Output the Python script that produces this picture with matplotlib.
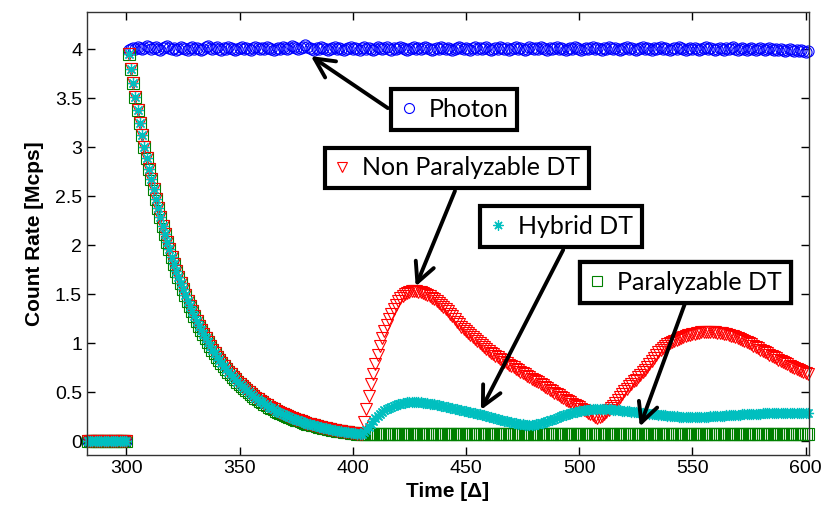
import numpy as np
import matplotlib
matplotlib.use("Agg")
from matplotlib import pyplot as plt
from matplotlib.ticker import FormatStrFormatter

# time axis, one sample per dead-time unit
time = np.arange(283, 602)

# all counters read zero before the photon burst
lead_zero = [0.0] * 18   # 283..300

# incoming photon rate (301..601)
photon_on = [
    3.99, 4.00, 4.01, 4.00, 4.02, 4.01, 4.00, 4.01, 4.03, 4.02, 4.00, 4.01, 4.02, 4.00, 3.99, 4.01, 4.02, 4.03, 4.01, 4.00,
    4.01, 3.99, 4.00, 4.02, 4.01, 4.00, 3.99, 4.01, 4.02, 4.00, 4.01, 4.00, 3.99, 4.00, 4.02, 4.03, 4.01, 4.00, 4.01, 4.02,
    4.00, 3.99, 4.01, 4.00, 4.02, 4.01, 4.00, 3.99, 4.00, 4.01, 4.02, 4.00, 4.01, 4.00, 3.99, 4.01, 4.02, 4.01, 4.00, 4.01,
    4.00, 4.02, 4.01, 4.00, 3.99, 4.00, 4.01, 4.00, 4.02, 4.01, 4.00, 4.01, 4.03, 4.02, 4.01, 4.00, 4.01, 4.02, 4.04, 4.02,
    4.01, 4.00, 3.99, 4.01, 4.00, 4.02, 4.01, 4.00, 3.99, 4.00, 4.01, 4.02, 4.00, 4.01, 4.00, 3.99, 4.00, 4.01, 4.02, 4.00,
    4.01, 4.00, 3.99, 4.01, 4.02, 4.00, 4.01, 4.00, 3.99, 4.00, 4.02, 4.01, 4.00, 4.01, 4.02, 4.00, 3.99, 4.01, 4.00, 4.01,
    4.02, 4.01, 4.00, 3.99, 4.00, 4.01, 4.02, 4.00, 4.01, 4.00, 4.01, 4.02, 4.01, 4.00, 3.99, 4.00, 4.01, 4.00, 4.02, 4.01,
    4.00, 4.01, 4.00, 3.99, 4.00, 4.01, 4.02, 4.01, 4.00, 4.01, 4.00, 3.99, 4.01, 4.02, 4.00, 4.01, 4.00, 4.01, 4.02, 4.00,
    3.99, 4.00, 4.01, 4.00, 4.02, 4.01, 4.00, 4.01, 3.99, 4.00, 4.01, 4.02, 4.00, 4.01, 4.00, 3.99, 4.00, 4.02, 4.01, 4.00,
    4.01, 4.00, 4.02, 4.01, 4.00, 3.99, 4.01, 4.00, 4.01, 4.02, 4.00, 4.01, 4.00, 3.99, 4.00, 4.01, 4.00, 4.02, 4.01, 4.00,
    3.99, 4.00, 4.01, 4.00, 4.01, 4.02, 4.00, 4.01, 4.00, 3.99, 4.01, 4.00, 4.02, 4.01, 4.00, 4.01, 4.00, 3.99, 4.00, 4.01,
    4.02, 4.00, 4.01, 4.00, 3.99, 4.00, 4.01, 4.02, 4.00, 4.01, 4.00, 3.99, 4.01, 4.00, 4.01, 4.02, 4.00, 4.01, 4.00, 3.99,
    4.00, 4.01, 4.00, 4.02, 4.01, 4.00, 3.99, 4.00, 4.01, 4.00, 4.01, 4.00, 3.99, 4.00, 4.01, 4.02, 4.00, 4.01, 4.00, 3.99,
    4.00, 4.01, 4.00, 3.99, 4.01, 4.00, 4.01, 4.02, 4.00, 3.99, 4.00, 4.01, 4.00, 3.99, 4.00, 4.01, 4.00, 3.99, 4.00, 4.01,
    4.00, 3.99, 4.00, 4.01, 4.00, 3.99, 4.00, 3.99, 4.00, 3.99, 3.98, 3.99, 4.00, 3.99, 3.98, 3.99, 3.98, 3.99, 3.98, 3.97,
    3.98,
]

# shared decay of all three detector models (301..404)
decay = [
    3.950, 3.799, 3.654, 3.514, 3.379, 3.250, 3.126, 3.006, 2.891, 2.781,
    2.674, 2.572, 2.474, 2.379, 2.288, 2.201, 2.116, 2.035, 1.958, 1.883,
    1.811, 1.741, 1.675, 1.611, 1.549, 1.490, 1.433, 1.378, 1.325, 1.275,
    1.226, 1.179, 1.134, 1.091, 1.049, 1.009, 0.970, 0.933, 0.897, 0.863,
    0.830, 0.798, 0.768, 0.738, 0.710, 0.683, 0.657, 0.632, 0.608, 0.584,
    0.562, 0.540, 0.520, 0.500, 0.481, 0.462, 0.445, 0.428, 0.411, 0.396,
    0.381, 0.366, 0.352, 0.338, 0.326, 0.313, 0.301, 0.290, 0.279, 0.268,
    0.258, 0.248, 0.238, 0.229, 0.220, 0.212, 0.204, 0.196, 0.189, 0.181,
    0.174, 0.168, 0.161, 0.155, 0.149, 0.144, 0.138, 0.133, 0.128, 0.123,
    0.118, 0.114, 0.109, 0.105, 0.101, 0.097, 0.093, 0.090, 0.086, 0.083,
    0.080, 0.077, 0.074, 0.071,
]

# tails after the decay (405..601)
nonpara_tail = [
    0.20, 0.33, 0.46, 0.58, 0.69, 0.79, 0.88, 0.97, 1.05, 1.12, 1.19, 1.25, 1.30, 1.35, 1.39, 1.43, 1.46, 1.48, 1.50, 1.51,
    1.52, 1.53, 1.53, 1.53,
    1.52, 1.52, 1.51, 1.50, 1.49, 1.48, 1.46, 1.45, 1.43, 1.41, 1.39, 1.37, 1.35, 1.33, 1.30, 1.28, 1.25, 1.22, 1.20, 1.17,
    1.15, 1.12, 1.10, 1.08, 1.06, 1.04, 1.02, 1.00, 0.98, 0.96, 0.94, 0.92, 0.90, 0.89, 0.87, 0.86, 0.84, 0.83, 0.81, 0.80,
    0.78, 0.77, 0.76, 0.74, 0.73, 0.71, 0.70, 0.69, 0.67, 0.66, 0.64, 0.63, 0.61, 0.60, 0.58, 0.57, 0.55, 0.54, 0.52, 0.51,
    0.49, 0.48, 0.47, 0.45, 0.44, 0.42, 0.41, 0.40, 0.38, 0.37, 0.36, 0.35, 0.33, 0.32, 0.31, 0.29, 0.28, 0.27, 0.25, 0.24,
    0.25, 0.26, 0.28, 0.30, 0.32, 0.34, 0.36, 0.39, 0.42, 0.45, 0.48, 0.51, 0.53, 0.56, 0.58, 0.61, 0.63, 0.66, 0.68, 0.71,
    0.73, 0.76, 0.79, 0.82, 0.85, 0.88, 0.91, 0.93, 0.95, 0.97, 0.99, 1.00, 1.01, 1.02, 1.03, 1.04, 1.05, 1.06, 1.07, 1.08,
    1.08, 1.09, 1.09, 1.10, 1.10, 1.11, 1.11, 1.11, 1.11, 1.11, 1.11, 1.11, 1.10, 1.10, 1.10, 1.09, 1.09, 1.08, 1.07, 1.07,
    1.06, 1.05, 1.04, 1.03, 1.02, 1.01, 1.00, 0.99, 0.97, 0.96, 0.95, 0.93, 0.92, 0.91, 0.90, 0.88, 0.87, 0.86, 0.85, 0.83,
    0.82, 0.81, 0.80, 0.79, 0.77, 0.76, 0.75, 0.74, 0.73, 0.72, 0.71, 0.70, 0.69,
]

hybrid_tail = [
    0.09, 0.12, 0.15, 0.18, 0.21, 0.24, 0.26, 0.28, 0.30, 0.32, 0.33, 0.34, 0.35, 0.36, 0.37, 0.38, 0.38, 0.39, 0.39, 0.40,
    0.40, 0.40, 0.40, 0.40, 0.40, 0.40, 0.39, 0.39, 0.39, 0.38, 0.38, 0.38, 0.37, 0.37, 0.36, 0.36, 0.35, 0.35, 0.34, 0.34,
    0.33, 0.33, 0.32, 0.32, 0.31, 0.31, 0.30, 0.30, 0.29, 0.29, 0.28, 0.28, 0.27, 0.27, 0.26, 0.25, 0.25, 0.24, 0.24, 0.23,
    0.22, 0.22, 0.21, 0.21, 0.20, 0.20, 0.19, 0.19, 0.18, 0.18, 0.18, 0.17, 0.17, 0.17, 0.17, 0.17, 0.18, 0.18, 0.19, 0.19,
    0.20, 0.21, 0.22, 0.22, 0.23, 0.24, 0.25, 0.26, 0.27, 0.27, 0.28, 0.29, 0.29, 0.30, 0.30, 0.31, 0.31, 0.32, 0.32, 0.32,
    0.33, 0.33, 0.33, 0.33, 0.33, 0.33, 0.33, 0.33, 0.33, 0.33, 0.32, 0.32, 0.32, 0.32, 0.31, 0.31, 0.31, 0.31, 0.30, 0.30,
    0.30, 0.30, 0.29, 0.29, 0.29, 0.29, 0.28, 0.28, 0.28, 0.28, 0.27, 0.27, 0.27, 0.27, 0.26, 0.26, 0.26, 0.26, 0.26, 0.25,
    0.25, 0.25, 0.25, 0.25, 0.25, 0.25, 0.25, 0.25, 0.25, 0.25, 0.25, 0.25, 0.25, 0.26, 0.26, 0.26, 0.26, 0.26, 0.26, 0.26,
    0.27, 0.27, 0.27, 0.27, 0.27, 0.27, 0.27, 0.28, 0.28, 0.28, 0.28, 0.28, 0.28, 0.28, 0.28, 0.28, 0.29, 0.29, 0.29, 0.29,
    0.29, 0.29, 0.29, 0.29, 0.29, 0.29, 0.29, 0.29, 0.29, 0.29, 0.29, 0.29, 0.29, 0.29, 0.29, 0.29, 0.29,
]

para_tail = [
    0.07, 0.07, 0.07, 0.07, 0.07, 0.07, 0.07, 0.07, 0.07, 0.07, 0.07, 0.07, 0.07, 0.07, 0.07, 0.07, 0.07, 0.07, 0.07, 0.07,
    0.07, 0.07, 0.07, 0.07, 0.07, 0.07, 0.07, 0.07, 0.07, 0.07, 0.07, 0.07, 0.07, 0.07, 0.07, 0.07, 0.07, 0.07, 0.07, 0.07,
    0.07, 0.07, 0.07, 0.07, 0.07, 0.07, 0.07, 0.07, 0.07, 0.07, 0.07, 0.07, 0.07, 0.07, 0.07, 0.07, 0.07, 0.07, 0.07, 0.07,
    0.07, 0.07, 0.07, 0.07, 0.07, 0.07, 0.07, 0.07, 0.07, 0.07, 0.07, 0.07, 0.07, 0.07, 0.07, 0.07, 0.07, 0.07, 0.07, 0.07,
    0.07, 0.07, 0.07, 0.07, 0.07, 0.07, 0.07, 0.07, 0.07, 0.07, 0.07, 0.07, 0.07, 0.07, 0.07, 0.07, 0.07, 0.07, 0.07, 0.07,
    0.07, 0.07, 0.07, 0.07, 0.07, 0.07, 0.07, 0.07, 0.07, 0.07, 0.07, 0.07, 0.07, 0.07, 0.07, 0.07, 0.07, 0.07, 0.07, 0.07,
    0.07, 0.07, 0.07, 0.07, 0.07, 0.07, 0.07, 0.07, 0.07, 0.07, 0.07, 0.07, 0.07, 0.07, 0.07, 0.07, 0.07, 0.07, 0.07, 0.07,
    0.07, 0.07, 0.07, 0.07, 0.07, 0.07, 0.07, 0.07, 0.07, 0.07, 0.07, 0.07, 0.07, 0.07, 0.07, 0.07, 0.07, 0.07, 0.07, 0.07,
    0.07, 0.07, 0.07, 0.07, 0.07, 0.07, 0.07, 0.07, 0.07, 0.07, 0.07, 0.07, 0.07, 0.07, 0.07, 0.07, 0.07, 0.07, 0.07, 0.07,
    0.07, 0.07, 0.07, 0.07, 0.07, 0.07, 0.07, 0.07, 0.07, 0.07, 0.07, 0.07, 0.07, 0.07, 0.07, 0.07, 0.07,
]

photon = np.array(lead_zero + photon_on)
nonpara = np.array(lead_zero + decay + nonpara_tail)
hybrid = np.array(lead_zero + decay + hybrid_tail)
para = np.array(lead_zero + decay + para_tail)

# %%
fig = plt.figure(figsize=(8.3, 5.14), dpi=100)
ax = fig.add_axes([0.1048, 0.1148, 0.8693, 0.8619])

MS = 8
ASTERISK = (8, 2, 0)
h_ph, = ax.plot(time, photon, "o", color="b", mfc="none", ms=MS, mew=0.8, clip_on=False)
h_pa, = ax.plot(time, para, "s", color=(0, 0.5, 0), mfc="none", ms=MS, mew=0.8, clip_on=False)
h_np, = ax.plot(time, nonpara, "v", color="r", mfc="none", ms=MS + 0.5, mew=0.8, clip_on=False)
h_hy, = ax.plot(time, hybrid, marker=ASTERISK, ls="none", color=(0, 0.75, 0.75), ms=MS, mew=0.9, clip_on=False)

ax.set_xlim(282.6, 601.3)
ax.set_ylim(-0.14, 4.38)
ax.set_xticks(np.arange(300, 601, 50))
ax.set_yticks(np.arange(0, 4.01, 0.5))
ax.yaxis.set_major_formatter(FormatStrFormatter("%g"))
ax.tick_params(direction="in", top=True, right=True, length=6, width=1,
               labelsize=14)
for lab in ax.get_xticklabels() + ax.get_yticklabels():
    lab.set_fontfamily("Liberation Sans")
for s in ax.spines.values():
    s.set_linewidth(1)
    s.set_color("#333333")

ax.set_xlabel("Time [Δ]", fontsize=15, fontweight="bold", family="Liberation Sans", labelpad=4)
ax.set_ylabel("Count Rate [Mcps]", fontsize=15, fontweight="bold", family="Liberation Sans", labelpad=8)

# %% callout boxes with arrows
boxes = [
    (h_ph, "Photon", (0.5088, 0.780), (0.417, 0.783), (381.5, 3.93)),
    (h_np, "Non Paralyzable DT", (0.5128, 0.648), (0.510, 0.596), (427.8, 1.58)),
    (h_hy, "Hybrid DT", (0.657, 0.516), (0.660, 0.463), (456.6, 0.32)),
    (h_pa, "Paralyzable DT", (0.829, 0.389), (0.829, 0.343), (526.8, 0.15)),
]
for handle, label, center, start, tip in boxes:
    ax.annotate("", xy=tip, xycoords="data", xytext=start, textcoords="axes fraction",
                arrowprops=dict(arrowstyle="->,head_length=0.7,head_width=0.35", lw=2.8,
                                color="k", shrinkA=0, shrinkB=0, mutation_scale=20))
    leg = ax.legend([handle], [label], loc="center", bbox_to_anchor=center,
                    bbox_transform=ax.transAxes, frameon=True, fancybox=False,
                    edgecolor="k", framealpha=1, numpoints=1, handlelength=0.7,
                    handletextpad=0.45, borderpad=0.35, borderaxespad=0,
                    markerscale=0.9, prop={"family": "Lato", "size": 18})
    leg.get_frame().set_linewidth(3)
    leg.set_zorder(10)
    ax.add_artist(leg)

fig.savefig("out.png", dpi=100)
